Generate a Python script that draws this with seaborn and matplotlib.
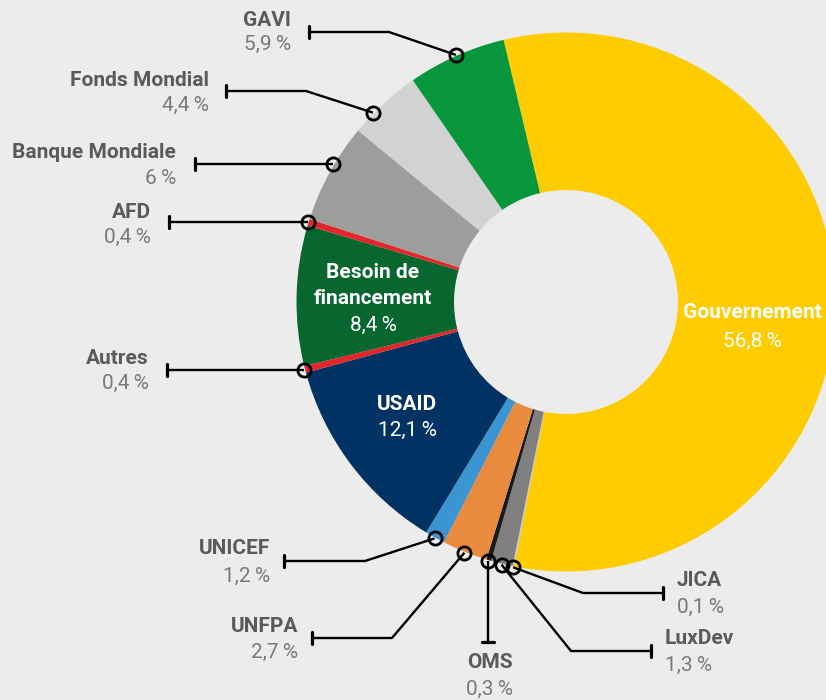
import numpy as np
import matplotlib
matplotlib.use("Agg")
import matplotlib.pyplot as plt
import seaborn as sns

# ---- data ----
categories = ["Gouvernement", "JICA", "LuxDev", "OMS", "UNFPA", "UNICEF", "USAID",
              "Autres", "Besoin de\nfinancement", "AFD", "Banque Mondiale",
              "Fonds Mondial", "GAVI"]
shares = [56.8, 0.1, 1.3, 0.3, 2.7, 1.2, 12.1, 0.4, 8.4, 0.4, 6.0, 4.4, 5.9]
pct_labels = ["56,8\u2009%", "0,1\u2009%", "1,3\u2009%", "0,3\u2009%", "2,7\u2009%",
              "1,2\u2009%", "12,1\u2009%", "0,4\u2009%", "8,4\u2009%", "0,4\u2009%",
              "6\u2009%", "4,4\u2009%", "5,9\u2009%"]
colors = ["#FFCC00", "#C9C9C9", "#808080", "#1A1A1A", "#E98B3F", "#3B95D3", "#003264",
          "#E3262A", "#07672F", "#E3262A", "#9D9D9B", "#D2D2D2", "#07963B"]

sns.set_theme(style="white")
plt.rcParams["font.family"] = ["Roboto", "DejaVu Sans"]

BG = "#ECECEC"
W, H = 826, 700
fig = plt.figure(figsize=(W / 100, H / 100), dpi=100, facecolor=BG)
ax = fig.add_axes([0, 0, 1, 1])
ax.set_facecolor(BG)

def Y(y):
    return H - y

cx, cy = 566, Y(302)
R, r_in = 269.5, 112

wedges, _ = ax.pie(shares, colors=colors, startangle=103.4, counterclock=False,
                   radius=R, center=(cx, cy),
                   wedgeprops=dict(width=R - r_in, linewidth=0), frame=False)
ax.set_xlim(0, W)
ax.set_ylim(0, H)
ax.set_aspect("equal")
ax.axis("off")

BOLD_C = "#5A5A5A"
PCT_C = "#7A7A7A"
FS = 15

# layout of external labels (pixel coords, y down)
layout = {
    "GAVI": dict(path=[(389, 32), (309, 32)], tick="v", text=(291, 20, 44), ha="right", off=0),
    "Fonds Mondial": dict(path=[(306, 91), (226, 91)], tick="v", text=(209, 80, 105), ha="right", off=3),
    "Banque Mondiale": dict(path=[(195, None)], tick="v", text=(176, 152, 178), ha="right", off=-2),
    "AFD": dict(path=[(169, None)], tick="v", text=(151, 212, 237), ha="right", off=0),
    "Autres": dict(path=[(167, None)], tick="v", text=(149, 358, 383), ha="right", off=0),
    "UNICEF": dict(path=[(365, 561), (284, 561)], tick="v", text=(270, 549, 576), ha="right", off=0),
    "UNFPA": dict(path=[(392, 638), (312, 638)], tick="v", text=(298, 626, 652), ha="right", off=0),
    "OMS": dict(path=[(None, 642)], tick="h", text=(490, 663, 689), ha="center", off=0),
    "LuxDev": dict(path=[(571, 651), (651, 651)], tick="v", text=(665, 638, 665), ha="left", off=0),
    "JICA": dict(path=[(583, 593), (663, 593)], tick="v", text=(677, 580, 607), ha="left", off=0),
}

for w, name, pct in zip(wedges, categories, pct_labels):
    if name not in layout:
        continue
    L = layout[name]
    mid = np.deg2rad((w.theta1 + w.theta2) / 2 + L["off"])
    mx = cx + (R + 1) * np.cos(mid)
    my = cy + (R + 1) * np.sin(mid)
    pts = [(mx, my)]
    for (px, py) in L["path"]:
        px2 = mx if px is None else px
        py2 = my if py is None else Y(py)
        pts.append((px2, py2))
    xs, ys = zip(*pts)
    ax.plot(xs, ys, color="black", lw=1.7, zorder=5, solid_capstyle="butt")
    ex, ey = pts[-1]
    if L["tick"] == "v":
        ax.plot([ex, ex], [ey - 6, ey + 6], color="black", lw=2.3, zorder=5)
    else:
        ax.plot([ex - 6, ex + 6], [ey, ey], color="black", lw=2.3, zorder=5)
    ax.plot([mx], [my], marker="o", ms=9.5, mfc="none", mec="black", mew=2.0, zorder=6)
    tx, ty1, ty2 = L["text"]
    ax.text(tx, Y(ty1), name, ha=L["ha"], va="center", fontsize=FS,
            fontweight="bold", color=BOLD_C)
    ax.text(tx, Y(ty2), pct, ha=L["ha"], va="center", fontsize=FS,
            fontweight="normal", color=PCT_C)

# inside labels
inside = {
    "Gouvernement": (752, [(313, "Gouvernement", True), (341, None, False)]),
    "USAID": (407, [(404, "USAID", True), (430, None, False)]),
    "Besoin de\nfinancement": (373, [(273, "Besoin de", True), (299, "financement", True),
                                     (325, None, False)]),
}
for name, pct in zip(categories, pct_labels):
    if name not in inside:
        continue
    x, lines = inside[name]
    for (yy, txt, bold) in lines:
        ax.text(x, Y(yy), pct if txt is None else txt, ha="center", va="center",
                fontsize=FS, fontweight="bold" if bold else "normal", color="white")

fig.savefig("out.png", dpi=100, facecolor=BG)
